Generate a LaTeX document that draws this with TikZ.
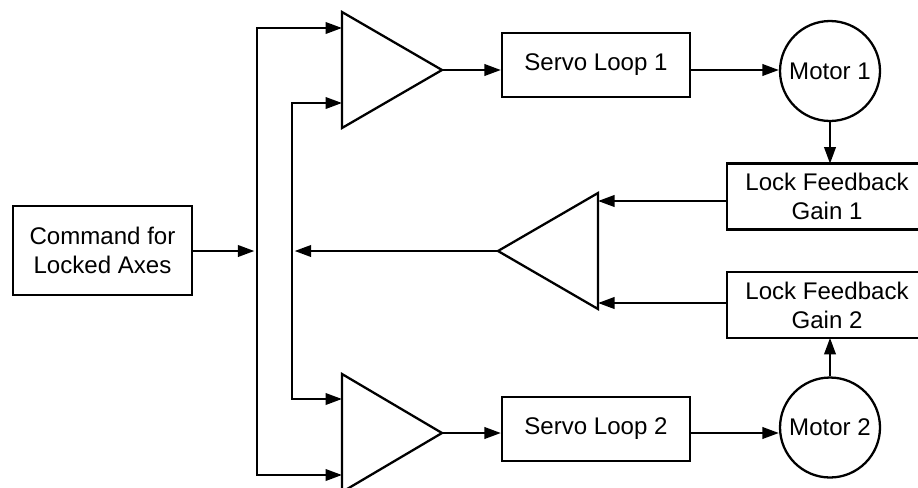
\documentclass[tikz,border=0pt]{standalone}
\usepackage{fontspec}
\setmainfont{Liberation Sans}
\usetikzlibrary{arrows.meta}

\begin{document}
\begin{tikzpicture}[x=0.02cm, y=-0.02cm, line width=1.3pt,
	>={Triangle[length=3.3mm,width=2.3mm]},
	every node/.style={font=\fontsize{13.7}{16.5}\selectfont, align=center},
	blockbox/.style={draw, minimum height=1.28cm, inner sep=0pt},
	gainbox/.style={minimum width=3.96cm, minimum height=1.27cm, inner sep=0pt},
	motorcirc/.style={draw, circle, minimum size=2cm, inner sep=0pt}]
	\useasboundingbox (0,0) rectangle (918,487);
	% blocks
	\node[blockbox, minimum width=3.58cm, minimum height=1.78cm] (cmd) at (102.5,250.5) {Command for\\Locked Axes};
	\node[blockbox, minimum width=3.76cm] (servo1) at (596,65) {Servo Loop 1};
	\node[blockbox, minimum width=3.76cm] (servo2) at (596,429) {Servo Loop 2};
	\node[motorcirc] (motor1) at (830,71) {Motor 1};
	\node[motorcirc] (motor2) at (830,427.5) {Motor 2};
	\node[gainbox] (gain1) at (827,196.5) {Lock Feedback\\Gain 1};
	\node[gainbox] (gain2) at (827,305) {Lock Feedback\\Gain 2};
	% gain boxes run off the right edge
	\foreach \g in {gain1, gain2} {\draw ([xshift=1cm]\g.north east) -- (\g.north west) -- (\g.south west) -- ([xshift=1cm]\g.south east);}
	% amplifiers
	\coordinate (amp1) at (442,70);
	\coordinate (amp2) at (442,433);
	\coordinate (ampfb) at (498,251);
	\draw (342,12) -- (amp1) -- (342,128) -- cycle;
	\draw (342,374) -- (amp2) -- (342,492) -- cycle;
	\draw (598,193) -- (ampfb) -- (598,309) -- cycle;
	\coordinate (in1a) at (342,28);
	\coordinate (in1b) at (342,103);
	\coordinate (in2a) at (342,399);
	\coordinate (in2b) at (342,475);
	\coordinate (fb1) at (598,201);
	\coordinate (fb2) at (598,303);
	% summing lines
	\coordinate (busA) at (257,251);
	\coordinate (busB) at (292,251);
	\draw[<->] (in1a) -- (in1a -| busA) -- (in2b -| busA) -- (in2b);
	\draw[<->] (in1b) -- (in1b -| busB) -- (in2a -| busB) -- (in2a);
	\draw[->, shorten >=1.5pt] (cmd.east |- busA) -- (busA);
	\draw[->, shorten >=1.5pt] (ampfb) -- (busB);
	% forward paths
	\foreach \u/\v in {amp1/servo1, amp2/servo2} {\draw[->] (\u) -- (\u -| \v.west);}
	\foreach \u/\v/\w in {servo1/motor1/amp1, servo2/motor2/amp2} {\draw[->] (\u.east |- \w) -- (\v.west |- \w);}
	% feedback
	\draw[->] (motor1.south) -- (motor1.south |- gain1.north);
	\draw[->] (motor2.north) -- (motor2.north |- gain2.south);
	\foreach \u/\v in {gain1/fb1, gain2/fb2} {\draw[->] (\u.west |- \v) -- (\v);}
\end{tikzpicture}
\end{document}
